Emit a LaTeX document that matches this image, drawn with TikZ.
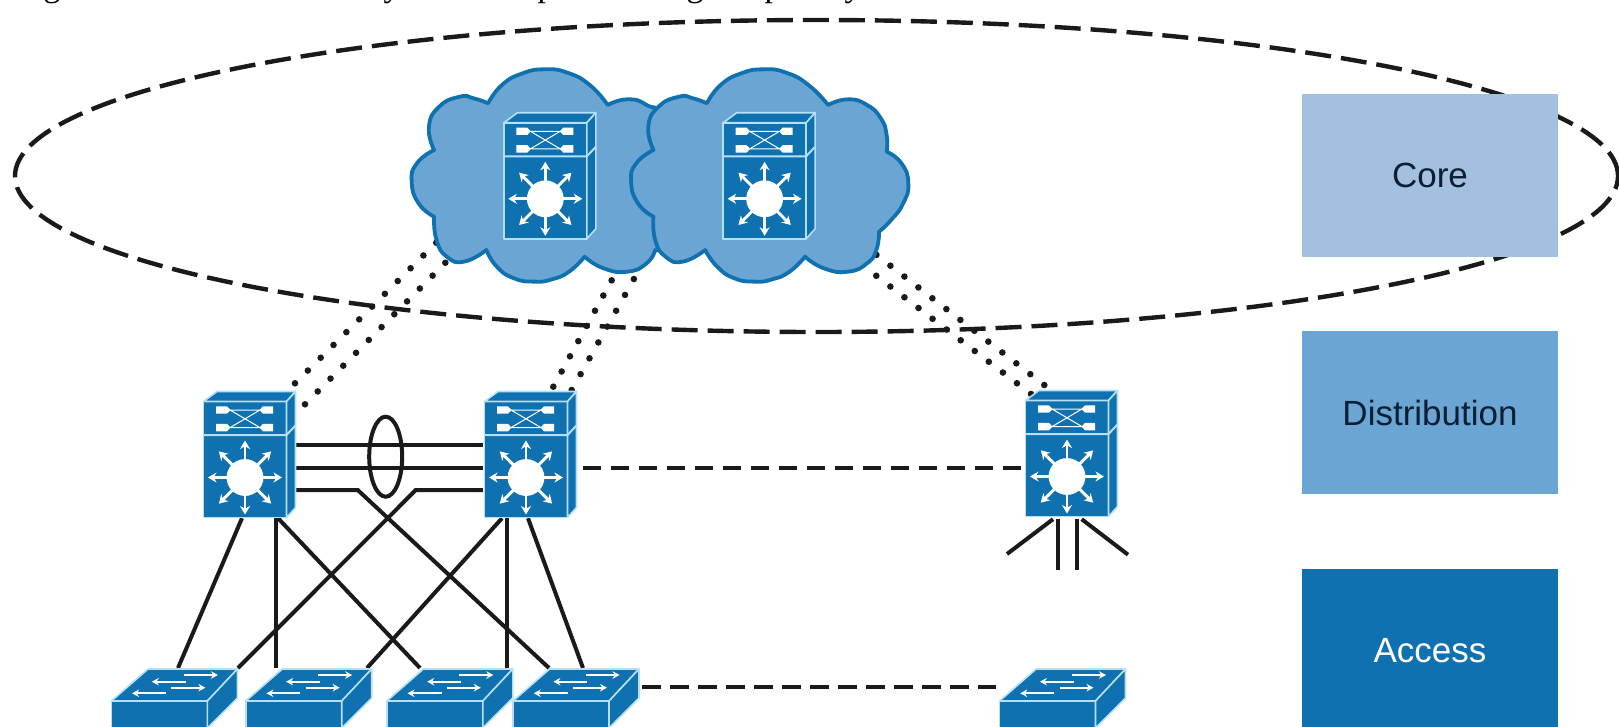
\documentclass[tikz,border=0pt]{standalone}
\usepackage{fontspec}
\setmainfont{Liberation Sans}
\newfontfamily\capfont{Liberation Serif}
\usetikzlibrary{arrows.meta,calc,shapes.geometric}
\definecolor{dkblue}{HTML}{0F71B0}
\definecolor{mdblue}{HTML}{6BA5D3}
\definecolor{ltblue}{HTML}{A3C1DF}
\definecolor{edgeblue}{HTML}{B5E0F7}
\definecolor{inkdark}{HTML}{0B1E33}
\definecolor{linkink}{HTML}{1A1A1A}
\tikzset{
  link/.style={draw=linkink,line width=4pt},
  tierbox/.style={rectangle,inner sep=0pt,minimum width=256.6pt,font=\fontsize{35}{40}\selectfont},
  devbox/.style={rectangle,inner sep=0pt,minimum width=83pt,minimum height=116pt},
  accbox/.style={rectangle,inner sep=0pt,minimum width=96pt,minimum height=26pt,anchor=north west},
  dashlink/.style={link,dash pattern=on 18.5pt off 9.5pt},
  dotlink/.style={draw=linkink,line width=6.6pt,line cap=round},
  cloudshape/.style={fill=mdblue,draw=dkblue,line width=3.8pt,line join=round},
  lobe/.style={smooth,tension=.9},
  glyphcut/.style={inner sep=0pt,anchor=base,text=black,font=\capfont\fontsize{34}{38}\selectfont},
  mls/.pic={
    \path[fill=dkblue,draw=edgeblue,line width=1.6pt,line join=round]
      (-41.5,-58) -- (41.5,-58) -- (41.5,58) -- (-41.5,58) -- cycle;
    \path[fill=dkblue,draw=edgeblue,line width=1.6pt,line join=round]
      (-41.5,-58) -- (-28,-68) -- (50.5,-68) -- (41.5,-58) -- cycle;
    \path[fill=dkblue,draw=edgeblue,line width=1.6pt,line join=round]
      (41.5,-58) -- (50.5,-68) -- (50.5,48) -- (41.5,58) -- cycle;
    \draw[edgeblue,line width=2pt] (-41.5,-24.5) -- (41.5,-24.5) -- (50.5,-34);
    \fill[white] (-29,-53.2) -- (-18,-53.2) -- (-14.5,-49.5) -- (-18,-45.8) -- (-29,-45.8) -- cycle;
    \fill[white] (-29,-35.6) -- (-18,-35.6) -- (-14.5,-31.9) -- (-18,-28.2) -- (-29,-28.2) -- cycle;
    \fill[white] (28,-53.2) -- (18,-53.2) -- (14.5,-49.5) -- (18,-45.8) -- (28,-45.8) -- cycle;
    \fill[white] (28,-35.6) -- (18,-35.6) -- (14.5,-31.9) -- (18,-28.2) -- (28,-28.2) -- cycle;
    \draw[white,line width=1pt] (-15,-49.5) -- (15,-49.5) (-15,-31.9) -- (15,-31.9)
      (-15,-49.5) -- (15,-31.9) (-15,-31.9) -- (15,-49.5);
    \fill[white] (0,18) circle (18.4pt);
    \foreach \a in {0,45,...,315}{
      \draw[white,line width=2.9pt,-{Stealth[length=8.5pt,width=10pt]}]
        ($(0,18)+(\a:14)$) -- ($(0,18)+(\a:37)$);
    }
  },
  accsw/.pic={
    \path[fill=dkblue,draw=edgeblue,line width=1.6pt,line join=round]
      (0,0) -- (96,0) -- (96,40) -- (0,40) -- cycle;
    \path[fill=dkblue,draw=edgeblue,line width=1.6pt,line join=round]
      (0,0) -- (36.6,-32) -- (126,-32) -- (96,0) -- cycle;
    \path[fill=dkblue,draw=edgeblue,line width=1.6pt,line join=round]
      (96,0) -- (126,-32) -- (126,-3) -- (96,27) -- cycle;
    \begin{scope}[white,line width=2.2pt,-{Stealth[length=7pt,width=7.5pt]}]
      \draw (72.5,-26) -- (106.5,-26);
      \draw (74.3,-19.3) -- (40.4,-19.3);
      \draw (60,-13.3) -- (94,-13.3);
      \draw (54.7,-7.7) -- (20.7,-7.7);
    \end{scope}
  }
}
\begin{document}
\begin{tikzpicture}[x=1pt,y=-1pt]
\useasboundingbox (0,0) rectangle (1619,727);
\clip (0,0) rectangle (1619,727);
\fill[white] (0,0) rectangle (1619,727);

% caption line cut off by the top edge
\node[glyphcut] (cap1) at (52,-3.5) {g};
\node[glyphcut] (cap2) at (392,-3.5) {y};
\node[glyphcut] (cap3) at (546,-3.5) {p};
\node[glyphcut] (cap4) at (695,-3.5) {g};
\node[glyphcut] (cap5) at (773,-3.5) {p};
\node[glyphcut] (cap6) at (853,-3.5) {y};

% layout nodes
\node[devbox] (core1) at (545.3,180.8) {};
\node[devbox] (core2) at (764.6,180.8) {};
\node[devbox] (dist1) at (245,459.5) {};
\node[devbox] (dist2) at (526,459.5) {};
\node[devbox] (dist3) at (1067,458.5) {};
\node[accbox] (acc1) at (111.4,701) {};
\node[accbox] (acc2) at (245.7,701) {};
\node[accbox] (acc3) at (386.8,701) {};
\node[accbox] (acc4) at (513,701) {};
\node[accbox] (acc5) at (999.5,701) {};
\coordinate (stubA) at (1007,554);
\coordinate (stubB) at (1057.7,570);
\coordinate (stubC) at (1077,570);
\coordinate (stubD) at (1128,554.7);

% dashed scope of the core
\node[ellipse,draw=linkink,line width=4.4pt,dash pattern=on 26pt off 10pt,inner sep=0pt,
  minimum width=1603pt,minimum height=312pt] (corescope) at (816.5,176) {};

% dotted core uplinks
\draw[dotlink,dash pattern=on 0pt off 18.12pt] ($(dist1)+(50,-76.2)$) -- ($(core1)+(-100.1,53)$);
\draw[dotlink,dash pattern=on 0pt off 18.12pt] ($(dist1)+(60,-55.2)$) -- ($(core1)+(-86.3,68.2)$);
\draw[dotlink,dash pattern=on 0pt off 17.33pt] ($(dist2)+(27.3,-72.8)$) -- ($(core1)+(91.4,53.9)$);
\draw[dotlink,dash pattern=on 0pt off 18.17pt] ($(dist2)+(45.7,-69.5)$) -- ($(core1)+(114.4,52.2)$);
\draw[dotlink,dash pattern=on 0pt off 17.7pt] ($(dist3)+(-36,-64.5)$) -- ($(core2)+(57.4,53.5)$);
\draw[dotlink,dash pattern=on 0pt off 17.7pt] ($(dist3)+(-22.7,-73.5)$) -- ($(core2)+(84.1,52.6)$);

% clouds
\begin{scope}[shift={(390,60)},x=.3444pt,y=-.3333pt]
\draw[cloudshape]
  plot[lobe] coordinates {(285,130)(325,75)(385,40)(450,28)(515,38)(580,75)(632,135)}
  -- plot[lobe] coordinates {(632,135)(690,118)(745,135)(790,180)(810,350)(795,530)(770,570)}
  -- plot[lobe] coordinates {(770,570)(745,610)(690,635)(620,625)(565,590)}
  -- plot[lobe] coordinates {(565,590)(520,635)(470,658)(420,665)(360,655)(310,620)(280,570)}
  -- plot[lobe] coordinates {(280,570)(215,605)(165,590)(135,540)(128,470)}
  -- plot[lobe] coordinates {(128,470)(83,430)(63,365)(78,310)(128,270)}
  -- plot[lobe] coordinates {(128,270)(113,200)(143,140)(203,110)(243,115)(285,130)}
  -- cycle;
\draw[cloudshape]
  plot[lobe] coordinates {(920,130)(960,75)(1020,40)(1085,28)(1150,38)(1215,75)(1272,135)}
  -- plot[lobe] coordinates {(1272,135)(1330,118)(1385,135)(1425,175)(1442,225)(1442,275)}
  -- plot[lobe] coordinates {(1442,275)(1485,310)(1505,370)(1490,430)(1455,480)(1420,515)}
  -- plot[lobe] coordinates {(1420,515)(1412,570)(1385,610)(1330,635)(1260,625)(1205,590)}
  -- plot[lobe] coordinates {(1205,590)(1160,635)(1110,658)(1060,665)(1000,655)(950,620)(915,570)}
  -- plot[lobe] coordinates {(915,570)(850,605)(800,590)(770,540)(765,470)}
  -- plot[lobe] coordinates {(765,470)(720,430)(700,365)(715,310)(765,270)}
  -- plot[lobe] coordinates {(765,270)(750,200)(780,140)(840,110)(880,115)(920,130)}
  -- cycle;
\end{scope}

% solid links
\draw[link] ($(dist1.east)+(9.5,-14.5)$) -- ($(dist2.west)+(-1.5,-14.5)$);
\draw[link] ($(dist1.east)+(9.5,8.2)$) -- ($(dist2.west)+(-1.5,8.2)$);
\draw[link] ($(dist1.east)+(9.5,30.5)$) -- ($(dist1.east)+(71,30.5)$) -- ($(acc4.north west)+(36,-33)$);
\draw[link] ($(dist2.west)+(-1.5,30.5)$) -- ($(dist2.west)+(-68.5,30.5)$) -- ($(acc1.north west)+(126.6,-33)$);
\draw[link] ($(dist1.south)+(-3,.5)$) -- ($(acc1.north west)+(66.6,-33)$);
\draw[link] ($(dist1.south)+(31,.5)$) -- ($(acc2.north west)+(30.3,-33)$);
\draw[link] ($(dist1.south)+(33,.5)$) -- ($(acc3.north west)+(33.2,-33)$);
\draw[link] ($(dist2.south)+(-24,.5)$) -- ($(acc2.north west)+(121.3,-33)$);
\draw[link] ($(dist2.south)+(-19,.5)$) -- ($(acc3.north west)+(120.2,-33)$);
\draw[link] ($(dist2.south)+(2,.5)$) -- ($(acc4.north west)+(70,-33)$);
\draw[link] ($(dist3.south)+(-14,2.5)$) -- (stubA);
\draw[link] ($(dist3.south)+(-9.3,2.5)$) -- (stubB);
\draw[link] ($(dist3.south)+(10,2.5)$) -- (stubC);
\draw[link] ($(dist3.south)+(14.7,2.5)$) -- (stubD);
\draw[dashlink] ($(dist2.east)+(15,8.2)$) -- ($(dist3.west)+(-1,9.2)$);
\draw[dashlink] ($(acc4.north west)+(129,-14.3)$) -- ($(acc5.north west)+(-3.5,-14.3)$);

% port-channel ring
\node[ellipse,draw=linkink,line width=4pt,inner sep=0pt,minimum width=33pt,minimum height=80pt] (ring) at (385.7,456.7) {};

% devices
\pic at (core1) {mls};
\pic at (core2) {mls};
\pic at (dist1) {mls};
\pic at (dist2) {mls};
\pic at (dist3) {mls};
\pic at (acc1.north west) {accsw};
\pic at (acc2.north west) {accsw};
\pic at (acc3.north west) {accsw};
\pic at (acc4.north west) {accsw};
\pic at (acc5.north west) {accsw};

% legend
\node[tierbox,fill=ltblue,minimum height=162.7pt,text=inkdark] (tcore) at (1430,175.3) {Core};
\node[tierbox,fill=mdblue,minimum height=163.3pt,text=inkdark] (tdist) at (1430,412.7) {Distribution};
\node[tierbox,fill=dkblue,minimum height=163pt,text=white] (tacc) at (1430,650.5) {Access};
\end{tikzpicture}
\end{document}
